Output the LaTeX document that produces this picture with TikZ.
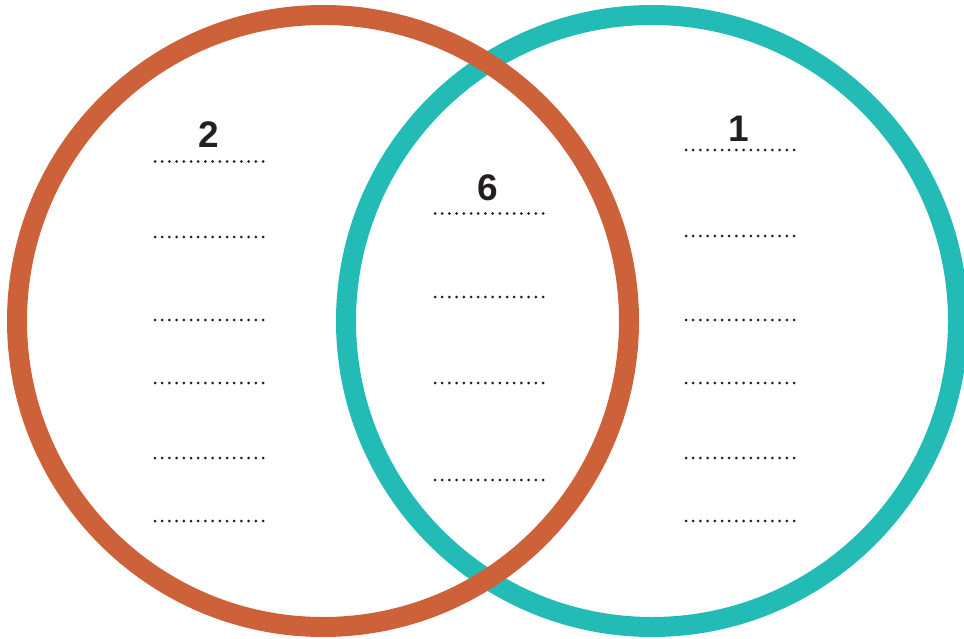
\documentclass[tikz,border=0pt]{standalone}
\usepackage{fontspec}
\setmainfont{Liberation Sans}
\definecolor{rust}{HTML}{CC613A}
\definecolor{tealc}{HTML}{22BBB5}
\definecolor{ink}{HTML}{231F20}
\begin{document}
\begin{tikzpicture}[x=1pt,y=-1pt,
  ring/.style={line width=20pt},
  dotrow/.style={ink,line width=3pt,line cap=round,dash pattern=on 0pt off 7.2pt},
  num/.style={font=\fontsize{37}{37}\selectfont\bfseries,text=ink,inner sep=0pt}]
\useasboundingbox (0,0) rectangle (964,639);
\draw[ring,tealc] (652,321) circle (306);
\draw[ring,rust] (323,321) circle (306);
% numbers
\node[num] (n2) at (209,135) {2};
\node[num] (n6) at (488,188) {6};
\node[num] (n1) at (739,129) {1};
% dotted rows
\foreach \y in {161.5,237,320,383,458,521}
  \draw[dotrow] (155,\y) -- (263.5,\y);
\foreach \y in {213.5,297,383,480}
  \draw[dotrow] (435,\y) -- (543.5,\y);
\foreach \y in {150,236,320,383,458,521}
  \draw[dotrow] (686,\y) -- (794.5,\y);
\end{tikzpicture}
\end{document}
